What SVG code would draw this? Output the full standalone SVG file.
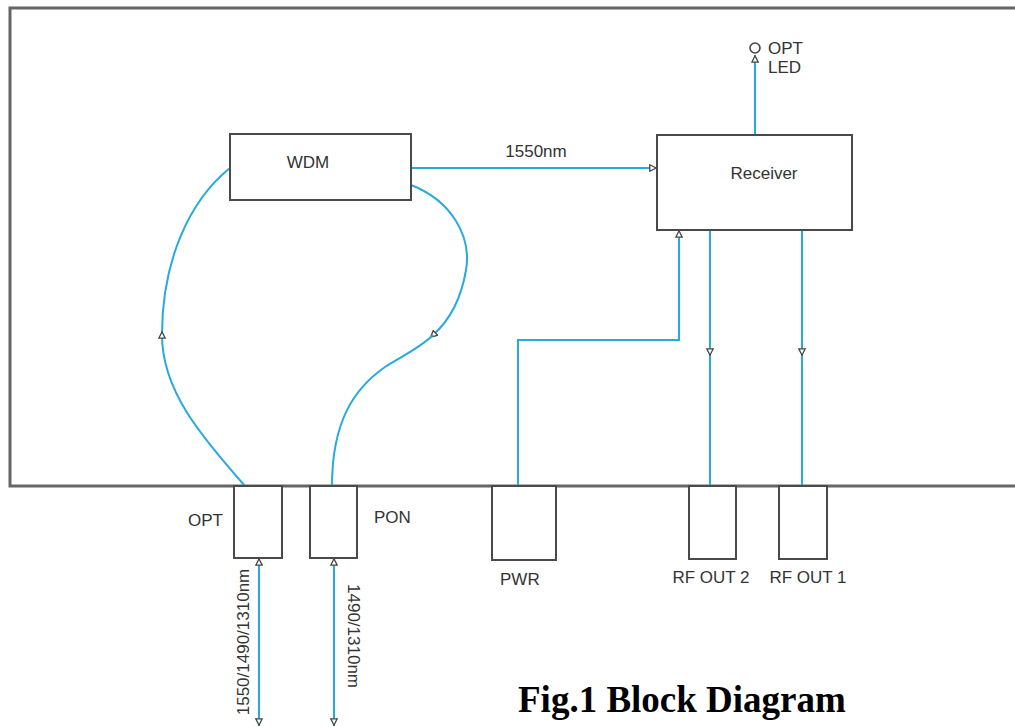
<svg xmlns="http://www.w3.org/2000/svg" width="1015" height="727" viewBox="0 0 1015 727">
<style>
.box{fill:#fff;stroke:#4a4a4a;stroke-width:2}
.lbl{font-family:"Liberation Sans",Arial,sans-serif;font-size:17px;fill:#333}
.wire{fill:none;stroke:#27a9e1;stroke-width:2}
.title{font-family:"Liberation Serif","Times New Roman",serif;font-size:37px;font-weight:bold;fill:#000}
</style>
<defs>
<marker id="tipEnd" viewBox="0 0 10 10" refX="10" refY="5" markerWidth="8" markerHeight="8" markerUnits="userSpaceOnUse" orient="auto">
<path d="M1,1 L9,5 L1,9 z" fill="#fff" stroke="#444" stroke-width="1.6"/>
</marker>
<marker id="tipMid" viewBox="0 0 10 10" refX="5" refY="5" markerWidth="8" markerHeight="8" markerUnits="userSpaceOnUse" orient="auto">
<path d="M1,1 L9,5 L1,9 z" fill="#fff" stroke="#444" stroke-width="1.6"/>
</marker>
</defs>
<rect x="10" y="8" width="1040" height="478" fill="#fff" stroke="#666" stroke-width="3"/>
<g id="connectors">
<path class="wire" d="M411,168 L657,168" marker-end="url(#tipEnd)"/>
<path class="wire" d="M755,135 L755,55" marker-end="url(#tipEnd)"/>
<path class="wire" d="M245,486 C200,435 162,390 162,335 C162,260 190,200 230,168" marker-mid="url(#tipMid)"/>
<path class="wire" d="M411,185 C450,200 472,235 466,270 C461,300 450,320 433,335" marker-end="url(#tipMid)"/>
<path class="wire" d="M433,335 C420,348 402,356 385,367 C355,388 332,420 332,486"/>
<path class="wire" d="M518,486 L518,340 L679,340 L679,230" marker-end="url(#tipEnd)"/>
<path class="wire" d="M710,230 L710,352 L710,486" marker-mid="url(#tipMid)"/>
<path class="wire" d="M802,230 L802,352 L802,486" marker-mid="url(#tipMid)"/>
<path class="wire" d="M259,640 L259,558" marker-end="url(#tipEnd)"/>
<path class="wire" d="M259,640 L259,726" marker-end="url(#tipEnd)"/>
<path class="wire" d="M334,640 L334,558" marker-end="url(#tipEnd)"/>
<path class="wire" d="M334,640 L334,726" marker-end="url(#tipEnd)"/>
<text class="lbl" x="536" y="157" text-anchor="middle">1550nm</text>
<text class="lbl" transform="translate(249,642) rotate(-90)" text-anchor="middle">1550/1490/1310nm</text>
<text class="lbl" transform="translate(348,636) rotate(90)" text-anchor="middle">1490/1310nm</text>
</g>
<g id="wdm">
<rect class="box" x="230" y="134" width="181" height="66"/>
<text class="lbl" x="308" y="168" text-anchor="middle">WDM</text>
</g>
<g id="receiver">
<rect class="box" x="657" y="135" width="195" height="95"/>
<text class="lbl" x="764" y="179" text-anchor="middle">Receiver</text>
</g>
<g id="opt-led">
<circle cx="755" cy="48" r="5" fill="#fff" stroke="#444" stroke-width="1.6"/>
<text class="lbl" x="768" y="54">OPT</text>
<text class="lbl" x="768" y="73">LED</text>
</g>
<g id="opt">
<rect class="box" x="234" y="486" width="48" height="72"/>
<text class="lbl" x="188" y="526">OPT</text>
</g>
<g id="pon">
<rect class="box" x="310" y="486" width="47" height="72"/>
<text class="lbl" x="374" y="523">PON</text>
</g>
<g id="pwr">
<rect class="box" x="492" y="486" width="64" height="74"/>
<text class="lbl" x="500" y="585">PWR</text>
</g>
<g id="rf-out-2">
<rect class="box" x="689" y="486" width="47" height="73"/>
<text class="lbl" x="711" y="583" text-anchor="middle">RF OUT 2</text>
</g>
<g id="rf-out-1">
<rect class="box" x="779" y="486" width="48" height="73"/>
<text class="lbl" x="808" y="583" text-anchor="middle">RF OUT 1</text>
</g>
<text class="title" x="518" y="712">Fig.1 Block Diagram</text>
</svg>
